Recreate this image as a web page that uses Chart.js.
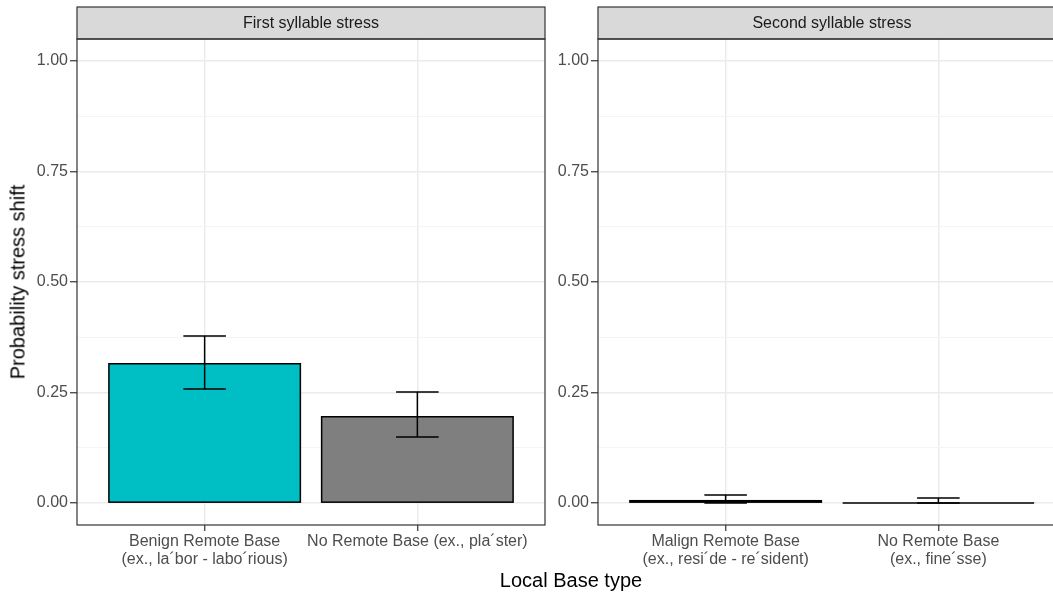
<!DOCTYPE html>
<html lang="en">
<head>
    <meta charset="UTF-8">
    <title>Probability of stress shift by Local Base type</title>
    <script src="https://cdn.jsdelivr.net/npm/chart.js"></script>
    <style>
        body {
            margin: 0;
            width: 1053px;
            height: 598px;
            overflow: hidden;
            background: #ffffff;
            position: relative;
            font-family: "Liberation Sans", Arial, sans-serif;
        }
        .panel {
            position: absolute;
            top: 0;
        }
        #yTitle {
            position: absolute;
            left: 18px;
            top: 282px;
            transform: translate(-50%, -50%) rotate(-90deg);
            font-size: 20px;
            white-space: nowrap;
            color: #000;
        }
        #xTitle {
            position: absolute;
            left: 571px;
            top: 580px;
            transform: translate(-50%, -50%);
            font-size: 20px;
            white-space: nowrap;
            color: #000;
        }
    </style>
</head>
<body>
    <canvas id="panel1" class="panel" width="560" height="598" style="left:0px"></canvas>
    <canvas id="panel2" class="panel" width="560" height="598" style="left:521px"></canvas>
    <div id="yTitle">Probability stress shift</div>
    <div id="xTitle">Local Base type</div>

    <script>
        // facet titles
        const panelTitles = ['First syllable stress', 'Second syllable stress'];

        // categories per facet
        const firstCategories = [
            ['Benign Remote Base', '(ex., la\u00b4bor - labo\u00b4rious)'],
            ['No Remote Base (ex., pla\u00b4ster)']
        ];
        const secondCategories = [
            ['Malign Remote Base', '(ex., resi\u00b4de - re\u00b4sident)'],
            ['No Remote Base', '(ex., fine\u00b4sse)']
        ];

        // probability of stress shift with error bar limits
        const firstValues = [0.315, 0.195];
        const firstLower  = [0.258, 0.149];
        const firstUpper  = [0.378, 0.251];

        const secondValues = [0.005, 0.0];
        const secondLower  = [0.0, 0.0];
        const secondUpper  = [0.018, 0.011];

        const firstColors = ['#00BFC4', '#7F7F7F'];
        const secondColors = ['#F8766D', '#7F7F7F'];

        // y axis ticks (major labelled, minor only gridlines)
        const yTicks = [0, 0.125, 0.25, 0.375, 0.5, 0.625, 0.75, 0.875, 1.0];
        const yMajor = [0, 0.25, 0.5, 0.75, 1.0];

        Chart.defaults.font.family = '"Liberation Sans", Arial, sans-serif';

        const isMajor = v => yMajor.some(m => Math.abs(m - v) < 1e-6);

        // strip, panel border, bar outlines and error bars
        const facetPlugin = {
            id: 'facet',
            afterDatasetsDraw(chart, args, opts) {
                const c = chart.ctx;
                const xs = chart.scales.x;
                const ys = chart.scales.y;
                const meta = chart.getDatasetMeta(0);
                c.save();
                c.strokeStyle = '#000000';
                c.lineWidth = 1.5;
                meta.data.forEach(bar => {
                    const left = bar.x - bar.width / 2;
                    c.strokeRect(left, Math.min(bar.y, bar.base), bar.width, Math.abs(bar.base - bar.y));
                });
                const unit = xs.getPixelForValue(1.1) - xs.getPixelForValue(1);
                opts.lower.forEach((lo, i) => {
                    const x = xs.getPixelForValue(i + 1);
                    const y1 = ys.getPixelForValue(opts.upper[i]);
                    const y2 = ys.getPixelForValue(lo);
                    c.beginPath();
                    c.moveTo(x, y1); c.lineTo(x, y2);
                    c.moveTo(x - unit, y1); c.lineTo(x + unit, y1);
                    c.moveTo(x - unit, y2); c.lineTo(x + unit, y2);
                    c.stroke();
                });
                c.restore();
            },
            afterDraw(chart, args, opts) {
                const c = chart.ctx;
                const a = chart.chartArea;
                c.save();
                // strip
                c.fillStyle = '#d9d9d9';
                c.fillRect(a.left, 7, a.right - a.left, a.top - 7);
                c.strokeStyle = '#333333';
                c.lineWidth = 1.2;
                c.strokeRect(a.left, 7, a.right - a.left, a.top - 7);
                c.fillStyle = '#1a1a1a';
                c.font = '16px "Liberation Sans", Arial, sans-serif';
                c.textAlign = 'center';
                c.textBaseline = 'middle';
                c.fillText(opts.title, (a.left + a.right) / 2, (7 + a.top) / 2 + 1);
                // panel border
                c.strokeStyle = '#333333';
                c.strokeRect(a.left, a.top, a.right - a.left, a.bottom - a.top);
                c.restore();
            }
        };

        function makePanel(id, title, categories, values, lower, upper, colors) {
            const ctx = document.getElementById(id).getContext('2d');
            return new Chart(ctx, {
                type: 'bar',
                data: {
                    datasets: [{
                        data: values.map((v, i) => ({ x: i + 1, y: v })),
                        backgroundColor: colors,
                        borderWidth: 0,
                        barPercentage: 0.9,
                        categoryPercentage: 1.0
                    }]
                },
                options: {
                    responsive: false,
                    animation: false,
                    layout: { padding: { top: 39, right: 15, bottom: 0, left: 0 } },
                    plugins: {
                        legend: { display: false },
                        tooltip: { enabled: false },
                        facet: { title: title, lower: lower, upper: upper }
                    },
                    scales: {
                        x: {
                            type: 'linear',
                            min: 0.4,
                            max: 2.6,
                            offset: false,
                            afterBuildTicks: s => { s.ticks = categories.map((c, i) => ({ value: i + 1 })); },
                            afterFit: s => { s.height = 73; },
                            border: { display: false },
                            grid: {
                                offset: false,
                                color: '#ebebeb',
                                lineWidth: 1.5,
                                tickColor: '#333333',
                                tickLength: 6,
                                tickWidth: 1.2
                            },
                            ticks: {
                                autoSkip: false,
                                maxRotation: 0,
                                padding: 2,
                                color: '#4d4d4d',
                                font: { size: 16, lineHeight: 1.1 },
                                callback: (v, i) => categories[i]
                            }
                        },
                        y: {
                            min: -0.05,
                            max: 1.05,
                            afterBuildTicks: s => { s.ticks = yTicks.map(v => ({ value: v })); },
                            afterFit: s => { s.width = 77; },
                            border: { display: false },
                            grid: {
                                color: c => isMajor(c.tick.value) ? '#ebebeb' : '#f4f4f4',
                                lineWidth: c => isMajor(c.tick.value) ? 1.5 : 1,
                                tickColor: c => isMajor(c.tick.value) ? '#333333' : 'rgba(0,0,0,0)',
                                tickLength: 7,
                                tickWidth: 1.2
                            },
                            ticks: {
                                padding: 2,
                                color: '#4d4d4d',
                                font: { size: 16 },
                                callback: v => isMajor(v) ? v.toFixed(2) : ''
                            }
                        }
                    }
                },
                plugins: [facetPlugin]
            });
        }

        makePanel('panel1', panelTitles[0], firstCategories, firstValues, firstLower, firstUpper, firstColors);
        makePanel('panel2', panelTitles[1], secondCategories, secondValues, secondLower, secondUpper, secondColors);
    </script>
</body>
</html>
